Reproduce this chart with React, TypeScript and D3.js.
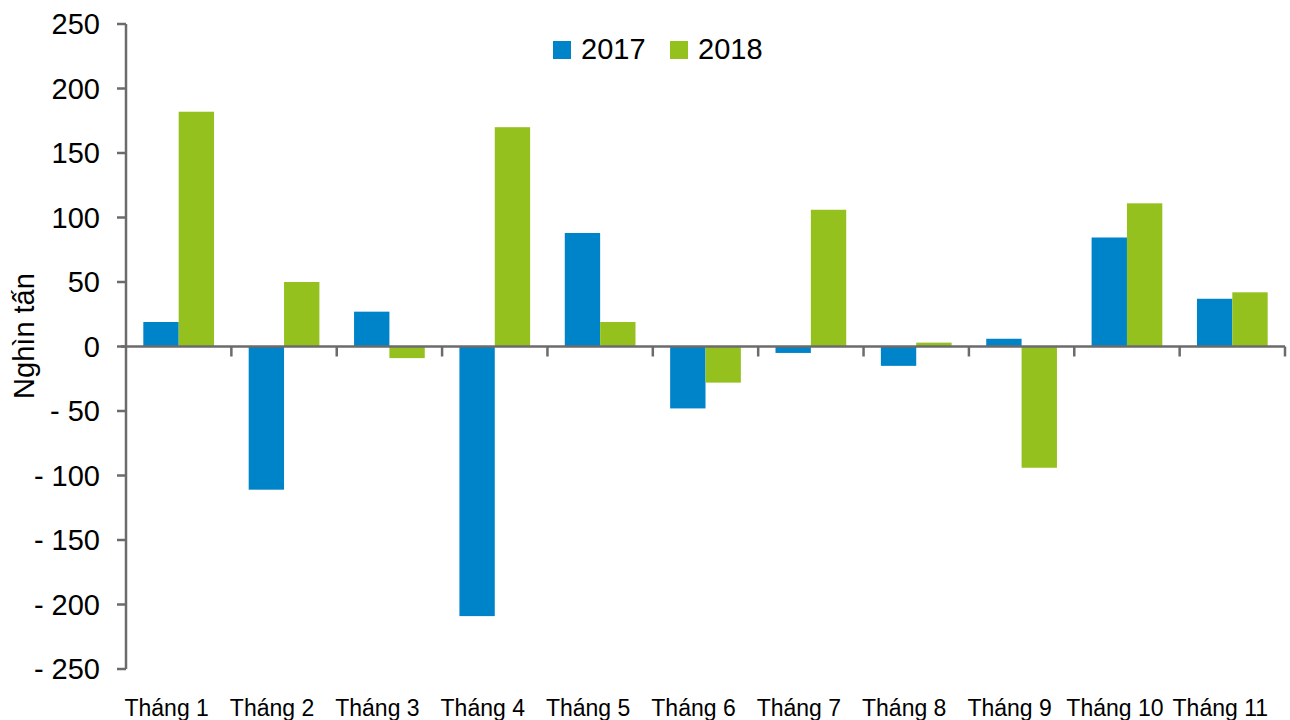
import React from "react";
import * as d3 from "d3";

const categories = ["Tháng 1", "Tháng 2", "Tháng 3", "Tháng 4", "Tháng 5", "Tháng 6", "Tháng 7", "Tháng 8", "Tháng 9", "Tháng 10", "Tháng 11"];
const seriesNames = ["2017", "2018"];
const values2017 = [19, -111, 27, -209, 88, -48, -5, -15, 6, 84.5, 37];
const values2018 = [182, 50, -9, 170, 19, -28, 106, 3, -94, 111, 42];
const yTicks = [250, 200, 150, 100, 50, 0, -50, -100, -150, -200, -250];
const colors = ["#0084C9", "#95C11F"];
const yTitle = "Nghìn tấn";

const W = 1290;
const H = 720;
const left = 126;
const right = 1285;
const top = 24;
const bottom = 669;
const font = "'Liberation Sans', Arial, Helvetica, sans-serif";
const axisColor = "#6b6b6b";

export default function App() {
  const x = d3.scaleBand<string>().domain(categories).range([left, right]).paddingInner(0).paddingOuter(0);
  const y = d3.scaleLinear().domain([-250, 250]).range([bottom, top]);
  const inner = d3.scaleBand<string>().domain(seriesNames).range([0, x.bandwidth()]).paddingOuter(0.49).paddingInner(0);
  const series = [values2017, values2018];
  const fmt = (v: number) => (v < 0 ? "- " + Math.abs(v) : String(v));
  const y0 = y(0);

  return (
    <svg width={W} height={H} style={{ position: "absolute", left: 0, top: 0, background: "#fff" }}>
      {series.map((vals, si) =>
        vals.map((v, i) => {
          const bx = (x(categories[i]) as number) + (inner(seriesNames[si]) as number);
          const yy = Math.min(y(v), y0);
          const h = Math.abs(y(v) - y0);
          return <rect key={si + "-" + i} x={bx} y={yy} width={inner.bandwidth()} height={h} fill={colors[si]} />;
        })
      )}
      {/* y axis */}
      <line x1={left} x2={left} y1={top} y2={bottom} stroke={axisColor} strokeWidth={2.5} />
      {yTicks.map((t) => (
        <g key={t}>
          <line x1={left - 9} x2={left} y1={y(t)} y2={y(t)} stroke={axisColor} strokeWidth={2.5} />
          <text x={100} y={y(t)} dy="0.36em" textAnchor="end" fontFamily={font} fontSize={29} fill="#000">
            {fmt(t)}
          </text>
        </g>
      ))}
      {/* x axis */}
      <line x1={left - 5} x2={right} y1={y0} y2={y0} stroke={axisColor} strokeWidth={2.5} />
      {categories.map((c, i) => (
        <line key={"t" + i} x1={(x(c) as number) + x.bandwidth()} x2={(x(c) as number) + x.bandwidth()} y1={y0} y2={y0 + 10} stroke={axisColor} strokeWidth={2.5} />
      ))}
      {categories.map((c, i) => (
        <text key={"l" + i} x={(x(c) as number) + x.bandwidth() / 2 - 12} y={716} textAnchor="middle" fontFamily={font} fontSize={23} fill="#000">
          {c}
        </text>
      ))}
      <text transform={`translate(34,336) rotate(-90)`} textAnchor="middle" fontFamily={font} fontSize={29} fill="#000">
        {yTitle}
      </text>
      {/* legend */}
      {seriesNames.map((s, i) => (
        <g key={s} transform={`translate(${553 + i * 117},0)`}>
          <rect x={0} y={41} width={18} height={18} fill={colors[i]} />
          <text x={28} y={59} fontFamily={font} fontSize={29} fill="#000">
            {s}
          </text>
        </g>
      ))}
    </svg>
  );
}
